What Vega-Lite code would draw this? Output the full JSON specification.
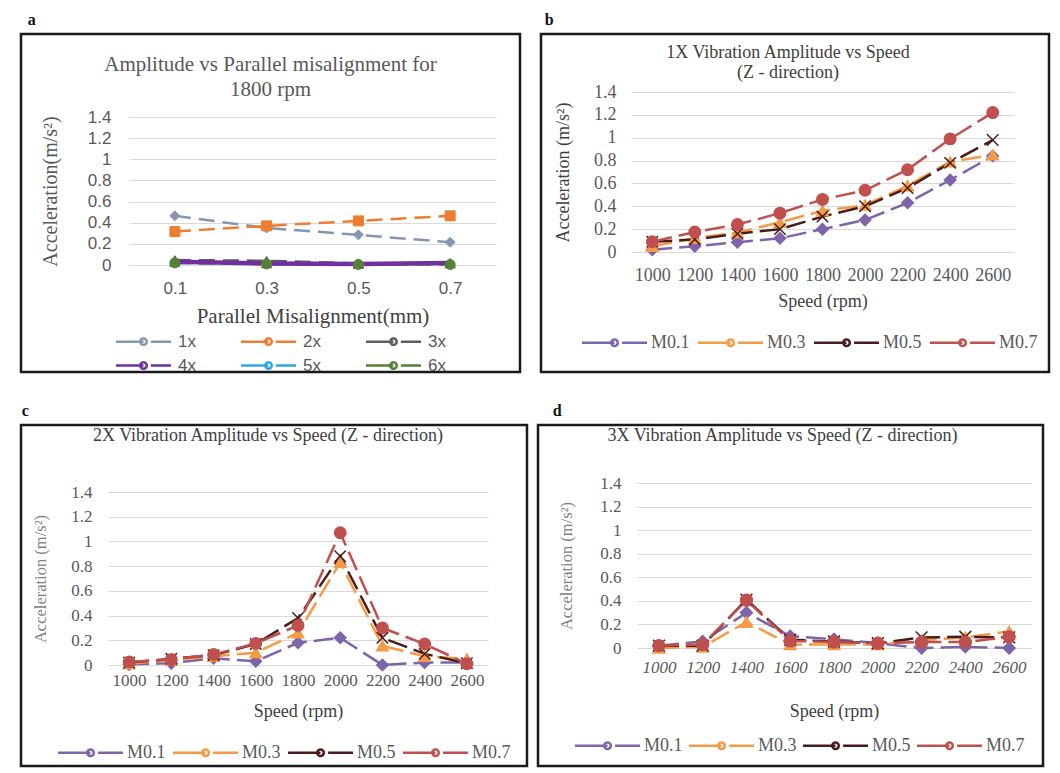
{
  "$schema": "https://vega.github.io/schema/vega-lite/v6.json",
  "background": "white",
  "padding": {"left": 19, "top": 11, "right": 0, "bottom": 0},
  "spacing": 26,
  "resolve": {"scale": {"color": "independent", "fill": "independent", "stroke": "independent", "shape": "independent"}, "legend": {"color": "independent", "fill": "independent", "stroke": "independent", "shape": "independent"}},
  "datasets": {
    "a": [
      {"mm": "0.1", "s": "1x", "v": 0.465}, {"mm": "0.3", "s": "1x", "v": 0.35}, {"mm": "0.5", "s": "1x", "v": 0.285}, {"mm": "0.7", "s": "1x", "v": 0.215},
      {"mm": "0.1", "s": "2x", "v": 0.316}, {"mm": "0.3", "s": "2x", "v": 0.37}, {"mm": "0.5", "s": "2x", "v": 0.417}, {"mm": "0.7", "s": "2x", "v": 0.465},
      {"mm": "0.1", "s": "3x", "v": 0.047}, {"mm": "0.3", "s": "3x", "v": 0.04}, {"mm": "0.5", "s": "3x", "v": 0.015}, {"mm": "0.7", "s": "3x", "v": 0.015},
      {"mm": "0.1", "s": "4x", "v": 0.03}, {"mm": "0.3", "s": "4x", "v": 0.015}, {"mm": "0.5", "s": "4x", "v": 0.01}, {"mm": "0.7", "s": "4x", "v": 0.02},
      {"mm": "0.1", "s": "5x", "v": 0.02}, {"mm": "0.3", "s": "5x", "v": 0.01}, {"mm": "0.5", "s": "5x", "v": 0.01}, {"mm": "0.7", "s": "5x", "v": 0.01},
      {"mm": "0.1", "s": "6x", "v": 0.02}, {"mm": "0.3", "s": "6x", "v": 0.01}, {"mm": "0.5", "s": "6x", "v": 0.005}, {"mm": "0.7", "s": "6x", "v": 0.005}
    ],
    "b": [
      {"rpm": 1000, "s": "M0.1", "v": 0.02}, {"rpm": 1200, "s": "M0.1", "v": 0.05}, {"rpm": 1400, "s": "M0.1", "v": 0.085}, {"rpm": 1600, "s": "M0.1", "v": 0.12}, {"rpm": 1800, "s": "M0.1", "v": 0.2}, {"rpm": 2000, "s": "M0.1", "v": 0.28}, {"rpm": 2200, "s": "M0.1", "v": 0.43}, {"rpm": 2400, "s": "M0.1", "v": 0.63}, {"rpm": 2600, "s": "M0.1", "v": 0.84},
      {"rpm": 1000, "s": "M0.3", "v": 0.05}, {"rpm": 1200, "s": "M0.3", "v": 0.12}, {"rpm": 1400, "s": "M0.3", "v": 0.17}, {"rpm": 1600, "s": "M0.3", "v": 0.26}, {"rpm": 1800, "s": "M0.3", "v": 0.36}, {"rpm": 2000, "s": "M0.3", "v": 0.41}, {"rpm": 2200, "s": "M0.3", "v": 0.58}, {"rpm": 2400, "s": "M0.3", "v": 0.79}, {"rpm": 2600, "s": "M0.3", "v": 0.85},
      {"rpm": 1000, "s": "M0.5", "v": 0.09}, {"rpm": 1200, "s": "M0.5", "v": 0.11}, {"rpm": 1400, "s": "M0.5", "v": 0.16}, {"rpm": 1600, "s": "M0.5", "v": 0.2}, {"rpm": 1800, "s": "M0.5", "v": 0.31}, {"rpm": 2000, "s": "M0.5", "v": 0.4}, {"rpm": 2200, "s": "M0.5", "v": 0.56}, {"rpm": 2400, "s": "M0.5", "v": 0.78}, {"rpm": 2600, "s": "M0.5", "v": 0.98},
      {"rpm": 1000, "s": "M0.7", "v": 0.09}, {"rpm": 1200, "s": "M0.7", "v": 0.175}, {"rpm": 1400, "s": "M0.7", "v": 0.24}, {"rpm": 1600, "s": "M0.7", "v": 0.34}, {"rpm": 1800, "s": "M0.7", "v": 0.46}, {"rpm": 2000, "s": "M0.7", "v": 0.54}, {"rpm": 2200, "s": "M0.7", "v": 0.72}, {"rpm": 2400, "s": "M0.7", "v": 0.99}, {"rpm": 2600, "s": "M0.7", "v": 1.22}
    ],
    "c": [
      {"rpm": 1000, "s": "M0.1", "v": 0.005}, {"rpm": 1200, "s": "M0.1", "v": 0.015}, {"rpm": 1400, "s": "M0.1", "v": 0.055}, {"rpm": 1600, "s": "M0.1", "v": 0.03}, {"rpm": 1800, "s": "M0.1", "v": 0.18}, {"rpm": 2000, "s": "M0.1", "v": 0.22}, {"rpm": 2200, "s": "M0.1", "v": 0.0}, {"rpm": 2400, "s": "M0.1", "v": 0.02}, {"rpm": 2600, "s": "M0.1", "v": 0.02},
      {"rpm": 1000, "s": "M0.3", "v": 0.01}, {"rpm": 1200, "s": "M0.3", "v": 0.04}, {"rpm": 1400, "s": "M0.3", "v": 0.07}, {"rpm": 1600, "s": "M0.3", "v": 0.1}, {"rpm": 1800, "s": "M0.3", "v": 0.26}, {"rpm": 2000, "s": "M0.3", "v": 0.83}, {"rpm": 2200, "s": "M0.3", "v": 0.155}, {"rpm": 2400, "s": "M0.3", "v": 0.07}, {"rpm": 2600, "s": "M0.3", "v": 0.05},
      {"rpm": 1000, "s": "M0.5", "v": 0.02}, {"rpm": 1200, "s": "M0.5", "v": 0.05}, {"rpm": 1400, "s": "M0.5", "v": 0.08}, {"rpm": 1600, "s": "M0.5", "v": 0.17}, {"rpm": 1800, "s": "M0.5", "v": 0.38}, {"rpm": 2000, "s": "M0.5", "v": 0.88}, {"rpm": 2200, "s": "M0.5", "v": 0.22}, {"rpm": 2400, "s": "M0.5", "v": 0.09}, {"rpm": 2600, "s": "M0.5", "v": 0.015},
      {"rpm": 1000, "s": "M0.7", "v": 0.025}, {"rpm": 1200, "s": "M0.7", "v": 0.045}, {"rpm": 1400, "s": "M0.7", "v": 0.085}, {"rpm": 1600, "s": "M0.7", "v": 0.175}, {"rpm": 1800, "s": "M0.7", "v": 0.32}, {"rpm": 2000, "s": "M0.7", "v": 1.07}, {"rpm": 2200, "s": "M0.7", "v": 0.3}, {"rpm": 2400, "s": "M0.7", "v": 0.17}, {"rpm": 2600, "s": "M0.7", "v": 0.01}
    ],
    "d": [
      {"rpm": 1000, "s": "M0.1", "v": 0.02}, {"rpm": 1200, "s": "M0.1", "v": 0.055}, {"rpm": 1400, "s": "M0.1", "v": 0.3}, {"rpm": 1600, "s": "M0.1", "v": 0.1}, {"rpm": 1800, "s": "M0.1", "v": 0.075}, {"rpm": 2000, "s": "M0.1", "v": 0.04}, {"rpm": 2200, "s": "M0.1", "v": 0.0}, {"rpm": 2400, "s": "M0.1", "v": 0.01}, {"rpm": 2600, "s": "M0.1", "v": 0.0},
      {"rpm": 1000, "s": "M0.3", "v": 0.0}, {"rpm": 1200, "s": "M0.3", "v": 0.01}, {"rpm": 1400, "s": "M0.3", "v": 0.22}, {"rpm": 1600, "s": "M0.3", "v": 0.03}, {"rpm": 1800, "s": "M0.3", "v": 0.03}, {"rpm": 2000, "s": "M0.3", "v": 0.03}, {"rpm": 2200, "s": "M0.3", "v": 0.065}, {"rpm": 2400, "s": "M0.3", "v": 0.09}, {"rpm": 2600, "s": "M0.3", "v": 0.14},
      {"rpm": 1000, "s": "M0.5", "v": 0.02}, {"rpm": 1200, "s": "M0.5", "v": 0.02}, {"rpm": 1400, "s": "M0.5", "v": 0.41}, {"rpm": 1600, "s": "M0.5", "v": 0.07}, {"rpm": 1800, "s": "M0.5", "v": 0.055}, {"rpm": 2000, "s": "M0.5", "v": 0.04}, {"rpm": 2200, "s": "M0.5", "v": 0.09}, {"rpm": 2400, "s": "M0.5", "v": 0.095}, {"rpm": 2600, "s": "M0.5", "v": 0.09},
      {"rpm": 1000, "s": "M0.7", "v": 0.02}, {"rpm": 1200, "s": "M0.7", "v": 0.03}, {"rpm": 1400, "s": "M0.7", "v": 0.405}, {"rpm": 1600, "s": "M0.7", "v": 0.06}, {"rpm": 1800, "s": "M0.7", "v": 0.05}, {"rpm": 2000, "s": "M0.7", "v": 0.04}, {"rpm": 2200, "s": "M0.7", "v": 0.05}, {"rpm": 2400, "s": "M0.7", "v": 0.05}, {"rpm": 2600, "s": "M0.7", "v": 0.095}
    ]
  },
  "vconcat": [
    {
      "spacing": 17,
      "resolve": {"scale": {"color": "independent", "fill": "independent", "stroke": "independent", "shape": "independent"}, "legend": {"color": "independent", "fill": "independent", "stroke": "independent", "shape": "independent"}},
      "hconcat": [
        {
          "title": {"text": "a", "anchor": "start", "font": "Liberation Serif", "fontSize": 16, "fontWeight": "bold", "color": "#111111", "offset": 5, "dx": 8},
          "resolve": {"scale": {"color": "independent", "fill": "independent", "stroke": "independent", "shape": "independent"}, "legend": {"color": "independent", "fill": "independent", "stroke": "independent", "shape": "independent"}},
          "vconcat": [
            {
              "width": 499, "height": 338,
              "view": {"stroke": "#1a1a1a", "strokeWidth": 2.5},
              "data": {"name": "a"},
              "title": {"text": ["Amplitude vs Parallel misalignment for", "1800 rpm"], "fontSize": 21, "lineHeight": 25, "offset": -66, "baseline": "top", "color": "#595959"},
              "encoding": {
                "x": {"field": "mm", "type": "ordinal", "scale": {"type": "point", "range": [108, 475], "padding": 0.5},
                  "axis": {"orient": "bottom", "offset": -107, "labelFont": "Liberation Sans", "labelFontSize": 17, "labelPadding": 15, "title": "Parallel Misalignment(mm)", "titleFontSize": 21, "titlePadding": 9, "titleColor": "#404040"}},
                "y": {"field": "v", "type": "quantitative", "scale": {"domain": [0, 1.4], "range": [231, 83], "nice": false},
                  "axis": {"orient": "left", "offset": -108, "values": [0, 0.2, 0.4, 0.6, 0.8, 1, 1.2, 1.4], "format": "~g", "labelFont": "Liberation Sans", "labelFontSize": 17, "labelPadding": 18, "title": "Acceleration(m/s²)", "titleFontSize": 20, "titlePadding": 27}}
              },
              "layer": [
                {
                  "transform": [{"filter": "datum.s !== '4x'"}],
                  "mark": {"type": "line", "strokeWidth": 2.5, "strokeDash": [16, 8]},
                  "encoding": {
                    "color": {"field": "s", "type": "nominal",
                      "scale": {"domain": ["1x", "2x", "3x", "4x", "5x", "6x"], "range": ["#8497B0", "#ED7D31", "#5E5E5E", "#7030A0", "#2EA8DE", "#548235"]},
                      "legend": {"orient": "none", "legendX": 112, "legendY": 297, "direction": "horizontal", "columns": 3, "title": null, "symbolType": "M-3,0L0,0M0.8,0L3,0M0.35,0A0.35,0.35,0,1,1,-0.35,0A0.35,0.35,0,1,1,0.35,0Z", "symbolSize": 336, "symbolStrokeWidth": 2.5, "symbolDash": [1, 0], "labelFont": "Liberation Sans", "labelFontSize": 17, "labelColor": "#595959", "labelOffset": 24, "columnPadding": 40, "rowPadding": 5, "padding": 0}
                    }
                  }
                },
                {
                  "transform": [{"filter": "datum.s === '4x'"}],
                  "mark": {"type": "line", "strokeWidth": 4.5},
                  "encoding": {
                    "color": {"field": "s", "type": "nominal", "scale": {"domain": ["1x", "2x", "3x", "4x", "5x", "6x"], "range": ["#8497B0", "#ED7D31", "#5E5E5E", "#7030A0", "#2EA8DE", "#548235"]}, "legend": null}
                  }
                },
                {
                  "transform": [{"filter": "datum.s !== '5x'"}],
                  "mark": {"type": "point", "filled": true, "size": 100, "opacity": 1, "strokeWidth": 1},
                  "encoding": {
                    "fill": {"field": "s", "type": "nominal", "scale": {"domain": ["6x", "5x", "4x", "3x", "2x", "1x"], "range": ["#548235", "#2EA8DE", "#7030A0", "#5E5E5E", "#ED7D31", "#8497B0"]}, "legend": null},
                    "stroke": {"field": "s", "type": "nominal", "scale": {"domain": ["6x", "5x", "4x", "3x", "2x", "1x"], "range": ["#548235", "#2EA8DE", "#7030A0", "#5E5E5E", "#ED7D31", "#8497B0"]}, "legend": null},
                    "shape": {"field": "s", "type": "nominal", "scale": {"domain": ["6x", "5x", "4x", "3x", "2x", "1x"], "range": ["circle", "circle", "triangle-up", "triangle-up", "square", "diamond"]}, "legend": null}
                  }
                }
              ]
            }
          ]
        },
        {
          "title": {"text": "b", "anchor": "start", "font": "Liberation Serif", "fontSize": 16, "fontWeight": "bold", "color": "#111111", "offset": 5, "dx": 5},
          "resolve": {"scale": {"color": "independent", "fill": "independent", "stroke": "independent", "shape": "independent"}, "legend": {"color": "independent", "fill": "independent", "stroke": "independent", "shape": "independent"}},
          "vconcat": [
            {
              "width": 508, "height": 338,
              "view": {"stroke": "#1a1a1a", "strokeWidth": 2.5},
              "data": {"name": "b"},
              "title": {"text": ["1X Vibration Amplitude vs Speed", "(Z - direction)"], "fontSize": 18, "lineHeight": 20, "offset": -48, "dx": -7, "baseline": "top", "color": "#404040"},
              "encoding": {
                "x": {"field": "rpm", "type": "ordinal", "scale": {"type": "point", "range": [90, 473], "padding": 0.5},
                  "axis": {"orient": "bottom", "offset": -120, "labelPadding": 14, "title": "Speed (rpm)", "titlePadding": 8, "titleColor": "#404040"}},
                "y": {"field": "v", "type": "quantitative", "scale": {"domain": [0, 1.4], "range": [218, 58], "nice": false},
                  "axis": {"orient": "left", "offset": -90, "values": [0, 0.2, 0.4, 0.6, 0.8, 1, 1.2, 1.4], "format": "~g", "labelPadding": 15, "title": "Acceleration (m/s²)", "titlePadding": 21, "titleColor": "#404040"}}
              },
              "layer": [
                {
                  "mark": {"type": "line", "strokeWidth": 2.5, "strokeDash": [20, 7]},
                  "encoding": {
                    "color": {"field": "s", "type": "nominal",
                      "scale": {"domain": ["M0.1", "M0.3", "M0.5", "M0.7"], "range": ["#7E64A8", "#F59A45", "#4A1B1B", "#C0504D"]},
                      "legend": {"orient": "none", "legendX": 61, "legendY": 296, "direction": "horizontal", "title": null, "symbolType": "M-3,0L0,0M0.7,0L3,0M0.3,0A0.3,0.3,0,1,1,-0.3,0A0.3,0.3,0,1,1,0.3,0Z", "symbolSize": 469, "symbolStrokeWidth": 2.5, "symbolDash": [1, 0], "labelFont": "Liberation Serif", "labelFontSize": 18, "labelColor": "#595959", "labelOffset": 24, "columnPadding": 3, "padding": 0}
                    }
                  }
                },
                {
                  "mark": {"type": "point", "filled": true, "size": 130, "opacity": 1, "strokeWidth": 1.5},
                  "encoding": {
                    "fill": {"field": "s", "type": "nominal", "scale": {"domain": ["M0.7", "M0.5", "M0.3", "M0.1"], "range": ["#C0504D", "#4A1B1B", "#F59A45", "#7E64A8"]}, "legend": null},
                    "stroke": {"field": "s", "type": "nominal", "scale": {"domain": ["M0.7", "M0.5", "M0.3", "M0.1"], "range": ["#C0504D", "#4A1B1B", "#F59A45", "#7E64A8"]}, "legend": null},
                    "shape": {"field": "s", "type": "nominal", "scale": {"domain": ["M0.7", "M0.5", "M0.3", "M0.1"], "range": ["circle", "M-1,-1L1,1M1,-1L-1,1", "triangle-up", "diamond"]}, "legend": null}
                  }
                }
              ]
            }
          ]
        }
      ]
    },
    {
      "spacing": 7,
      "resolve": {"scale": {"color": "independent", "fill": "independent", "stroke": "independent", "shape": "independent"}, "legend": {"color": "independent", "fill": "independent", "stroke": "independent", "shape": "independent"}},
      "hconcat": [
        {
          "title": {"text": "c", "anchor": "start", "font": "Liberation Serif", "fontSize": 16, "fontWeight": "bold", "color": "#111111", "offset": 5, "dx": 2},
          "resolve": {"scale": {"color": "independent", "fill": "independent", "stroke": "independent", "shape": "independent"}, "legend": {"color": "independent", "fill": "independent", "stroke": "independent", "shape": "independent"}},
          "vconcat": [
            {
              "width": 506, "height": 341,
              "view": {"stroke": "#1a1a1a", "strokeWidth": 2.5},
              "data": {"name": "c"},
              "title": {"text": "2X Vibration Amplitude vs Speed (Z - direction)", "fontSize": 18, "offset": -20, "baseline": "top", "dx": -6, "color": "#404040"},
              "encoding": {
                "x": {"field": "rpm", "type": "ordinal", "scale": {"type": "point", "range": [87, 467], "padding": 0.5},
                  "axis": {"orient": "bottom", "offset": -101, "labelFontSize": 17, "labelPadding": 7, "title": "Speed (rpm)", "titlePadding": 14, "titleColor": "#404040"}},
                "y": {"field": "v", "type": "quantitative", "scale": {"domain": [0, 1.4], "range": [240, 67], "nice": false},
                  "axis": {"orient": "left", "offset": -87, "values": [0, 0.2, 0.4, 0.6, 0.8, 1, 1.2, 1.4], "format": "~g", "labelFontSize": 17, "labelPadding": 16, "title": "Acceleration (m/s²)", "titleFontSize": 16.5, "titlePadding": 22, "titleColor": "#7f7f7f"}}
              },
              "layer": [
                {
                  "mark": {"type": "line", "strokeWidth": 2.5, "strokeDash": [20, 7]},
                  "encoding": {
                    "color": {"field": "s", "type": "nominal",
                      "scale": {"domain": ["M0.1", "M0.3", "M0.5", "M0.7"], "range": ["#7E64A8", "#F59A45", "#4A1B1B", "#C0504D"]},
                      "legend": {"orient": "none", "legendX": 57, "legendY": 315, "direction": "horizontal", "title": null, "symbolType": "M-3,0L0,0M0.7,0L3,0M0.3,0A0.3,0.3,0,1,1,-0.3,0A0.3,0.3,0,1,1,0.3,0Z", "symbolSize": 469, "symbolStrokeWidth": 2.5, "symbolDash": [1, 0], "labelFont": "Liberation Serif", "labelFontSize": 18, "labelColor": "#595959", "labelOffset": 24, "columnPadding": 2, "padding": 0}
                    }
                  }
                },
                {
                  "mark": {"type": "point", "filled": true, "size": 130, "opacity": 1, "strokeWidth": 1.5},
                  "encoding": {
                    "fill": {"field": "s", "type": "nominal", "scale": {"domain": ["M0.7", "M0.5", "M0.3", "M0.1"], "range": ["#C0504D", "#4A1B1B", "#F59A45", "#7E64A8"]}, "legend": null},
                    "stroke": {"field": "s", "type": "nominal", "scale": {"domain": ["M0.7", "M0.5", "M0.3", "M0.1"], "range": ["#C0504D", "#4A1B1B", "#F59A45", "#7E64A8"]}, "legend": null},
                    "shape": {"field": "s", "type": "nominal", "scale": {"domain": ["M0.7", "M0.5", "M0.3", "M0.1"], "range": ["circle", "M-1,-1L1,1M1,-1L-1,1", "triangle-up", "diamond"]}, "legend": null}
                  }
                }
              ]
            }
          ]
        },
        {
          "title": {"text": "d", "anchor": "start", "font": "Liberation Serif", "fontSize": 16, "fontWeight": "bold", "color": "#111111", "offset": 5, "dx": 16},
          "resolve": {"scale": {"color": "independent", "fill": "independent", "stroke": "independent", "shape": "independent"}, "legend": {"color": "independent", "fill": "independent", "stroke": "independent", "shape": "independent"}},
          "vconcat": [
            {
              "width": 505, "height": 341,
              "view": {"stroke": "#1a1a1a", "strokeWidth": 2.5},
              "data": {"name": "d"},
              "title": {"text": "3X Vibration Amplitude vs Speed (Z - direction)", "fontSize": 18, "offset": -20, "baseline": "top", "dx": -8, "color": "#404040"},
              "encoding": {
                "x": {"field": "rpm", "type": "ordinal", "scale": {"type": "point", "range": [99, 493], "padding": 0.5},
                  "axis": {"orient": "bottom", "offset": -118, "labelFontSize": 17, "labelFontStyle": "italic", "labelPadding": 11, "title": "Speed (rpm)", "titlePadding": 27, "titleColor": "#404040"}},
                "y": {"field": "v", "type": "quantitative", "scale": {"domain": [0, 1.4], "range": [223, 58], "nice": false},
                  "axis": {"orient": "left", "offset": -99, "values": [0, 0.2, 0.4, 0.6, 0.8, 1, 1.2, 1.4], "format": "~g", "labelFontSize": 17, "labelPadding": 16, "title": "Acceleration (m/s²)", "titleFontSize": 16.5, "titlePadding": 25, "titleColor": "#7f7f7f"}}
              },
              "layer": [
                {
                  "mark": {"type": "line", "strokeWidth": 2.5, "strokeDash": [20, 7]},
                  "encoding": {
                    "color": {"field": "s", "type": "nominal",
                      "scale": {"domain": ["M0.1", "M0.3", "M0.5", "M0.7"], "range": ["#7E64A8", "#F59A45", "#4A1B1B", "#C0504D"]},
                      "legend": {"orient": "none", "legendX": 57, "legendY": 308, "direction": "horizontal", "title": null, "symbolType": "M-3,0L0,0M0.7,0L3,0M0.3,0A0.3,0.3,0,1,1,-0.3,0A0.3,0.3,0,1,1,0.3,0Z", "symbolSize": 469, "symbolStrokeWidth": 2.5, "symbolDash": [1, 0], "labelFont": "Liberation Serif", "labelFontSize": 18, "labelColor": "#595959", "labelOffset": 24, "columnPadding": 1, "padding": 0}
                    }
                  }
                },
                {
                  "mark": {"type": "point", "filled": true, "size": 140, "opacity": 1, "strokeWidth": 1.5},
                  "encoding": {
                    "fill": {"field": "s", "type": "nominal", "scale": {"domain": ["M0.7", "M0.5", "M0.3", "M0.1"], "range": ["#C0504D", "#4A1B1B", "#F59A45", "#7E64A8"]}, "legend": null},
                    "stroke": {"field": "s", "type": "nominal", "scale": {"domain": ["M0.7", "M0.5", "M0.3", "M0.1"], "range": ["#C0504D", "#4A1B1B", "#F59A45", "#7E64A8"]}, "legend": null},
                    "shape": {"field": "s", "type": "nominal", "scale": {"domain": ["M0.7", "M0.5", "M0.3", "M0.1"], "range": ["circle", "M-1,-1L1,1M1,-1L-1,1", "triangle-up", "diamond"]}, "legend": null}
                  }
                }
              ]
            }
          ]
        }
      ]
    }
  ],
  "config": {
    "font": "Liberation Serif",
    "view": {"stroke": null},
    "title": {"font": "Liberation Serif", "fontWeight": "normal", "color": "#4d4d4d"},
    "axis": {"ticks": false, "tickSize": 0, "domain": false, "grid": false, "labelColor": "#595959", "titleColor": "#595959", "labelFont": "Liberation Serif", "titleFont": "Liberation Serif", "titleFontWeight": "normal", "labelFontSize": 18, "titleFontSize": 18},
    "axisX": {"labelAngle": 0, "grid": false},
    "axisY": {"grid": true, "gridColor": "#d9d9d9", "gridWidth": 1}
  }
}
